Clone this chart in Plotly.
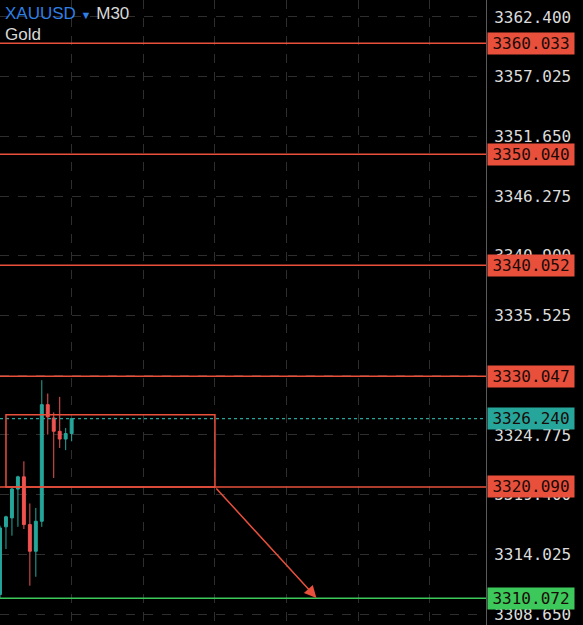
import plotly.graph_objects as go

# XAUUSD M30 candles
bars = list(range(13))
opens = [3310.4, 3316.5, 3317.3, 3319.9, 3321.0, 3316.7, 3314.3, 3317.0, 3327.5, 3326.3, 3325.1, 3324.4, 3324.9]
highs = [3316.6, 3317.5, 3320.0, 3321.1, 3322.4, 3318.6, 3318.2, 3329.7, 3328.5, 3326.8, 3328.2, 3325.4, 3326.3]
lows = [3310.1, 3314.5, 3315.7, 3316.5, 3316.3, 3311.2, 3312.0, 3316.5, 3324.8, 3320.9, 3323.6, 3323.4, 3324.2]
closes = [3316.4, 3317.4, 3319.9, 3321.0, 3316.7, 3314.3, 3317.0, 3327.5, 3326.4, 3325.1, 3324.4, 3324.9, 3326.24]

# horizontal levels drawn on the chart
red_levels = [3360.033, 3350.040, 3340.052, 3330.047, 3320.090]
green_level = 3310.072
current_price = 3326.240

# price axis ticks
tick_vals = [3362.400, 3357.025, 3351.650, 3346.275, 3340.900, 3335.525,
             3330.150, 3324.775, 3319.400, 3314.025, 3308.650]

# box and arrow (bar index, price)
box_x = [1, 36]
box_y = [3320.090, 3326.6]
arrow_from = (36, 3320.090)
arrow_to = (53, 3310.10)

RED = "#e8503c"
TEAL = "#26a69a"
GREEN = "#3cc85a"

fig = go.Figure()

fig.add_trace(go.Candlestick(
    x=bars, open=opens, high=highs, low=lows, close=closes,
    increasing=dict(line=dict(color=TEAL, width=1), fillcolor=TEAL),
    decreasing=dict(line=dict(color="#ef5350", width=1), fillcolor="#ef5350"),
    whiskerwidth=0,
    showlegend=False,
    hoverinfo="skip",
))

# level lines
for lv in red_levels:
    fig.add_shape(type="line", xref="paper", x0=0, x1=1, y0=lv, y1=lv,
                  line=dict(color=RED, width=1.5))
fig.add_shape(type="line", xref="paper", x0=0, x1=1, y0=green_level, y1=green_level,
              line=dict(color=GREEN, width=1.5))
fig.add_shape(type="line", xref="paper", x0=0, x1=1, y0=current_price, y1=current_price,
              line=dict(color=TEAL, width=1.2, dash="dot"))

# box
fig.add_shape(type="rect", x0=box_x[0], x1=box_x[1], y0=box_y[0], y1=box_y[1],
              line=dict(color=RED, width=1.5))

# arrow
fig.add_annotation(x=arrow_to[0], y=arrow_to[1], ax=arrow_from[0], ay=arrow_from[1],
                   axref="x", ayref="y", xref="x", yref="y", text="",
                   showarrow=True, arrowhead=2, arrowsize=1.6, arrowwidth=1.5,
                   arrowcolor=RED)

# price labels on the axis
def price_tag(val, color):
    fig.add_annotation(x=1, xref="paper", xanchor="left", xshift=1,
                       y=val, yref="y", yanchor="middle",
                       text=f"{val:.3f}", showarrow=False,
                       font=dict(family="DejaVu Sans Mono", size=16, color="#1a0a08"),
                       bgcolor=color, borderpad=1, width=84, height=19)

for lv in red_levels:
    price_tag(lv, RED)
price_tag(current_price, TEAL)
price_tag(green_level, GREEN)

# symbol header
fig.add_annotation(xref="paper", yref="paper", x=0.0, y=1 - 13 / 625, xanchor="left",
                   yanchor="middle", xshift=3, showarrow=False,
                   text="<span style='color:#2f7fe4'>XAUUSD</span> "
                        "<span style='color:#2f7fe4;font-size:11px'>▼</span> "
                        "<span style='color:#d8d8d8'>M30</span>",
                   font=dict(family="Liberation Sans", size=17))
fig.add_annotation(xref="paper", yref="paper", x=0.0, y=1 - 34 / 625, xanchor="left",
                   yanchor="middle", xshift=3, showarrow=False,
                   text="Gold", font=dict(family="Liberation Sans", size=17, color="#d8d8d8"))

fig.update_layout(
    width=583, height=625,
    margin=dict(l=0, r=97, t=0, b=0),
    paper_bgcolor="#000000",
    plot_bgcolor="#000000",
    xaxis_rangeslider_visible=False,
    showlegend=False,
)
fig.update_xaxes(range=[0, 81.4], tick0=0, dtick=12, showticklabels=False,
                 showgrid=True, gridcolor="#2e2e2e", griddash="dash", gridwidth=1,
                 zeroline=False, showline=False)
fig.update_yaxes(range=[3307.66, 3363.93], side="right", tickvals=tick_vals,
                 ticktext=[f"{v:.3f}" for v in tick_vals],
                 tickfont=dict(family="DejaVu Sans Mono", size=16, color="#dcdcdc"),
                 showgrid=True, gridcolor="#2e2e2e", griddash="dash", gridwidth=1,
                 zeroline=False, showline=True, linecolor="#5a5a5a", linewidth=1,
                 ticks="", ticklabelstandoff=4)

# drop the browser's default page margin so the chart fills the window
fig.write_html("out.html", config={"displayModeBar": False},
               post_script="document.body.style.margin='0';document.body.style.background='#000';")
